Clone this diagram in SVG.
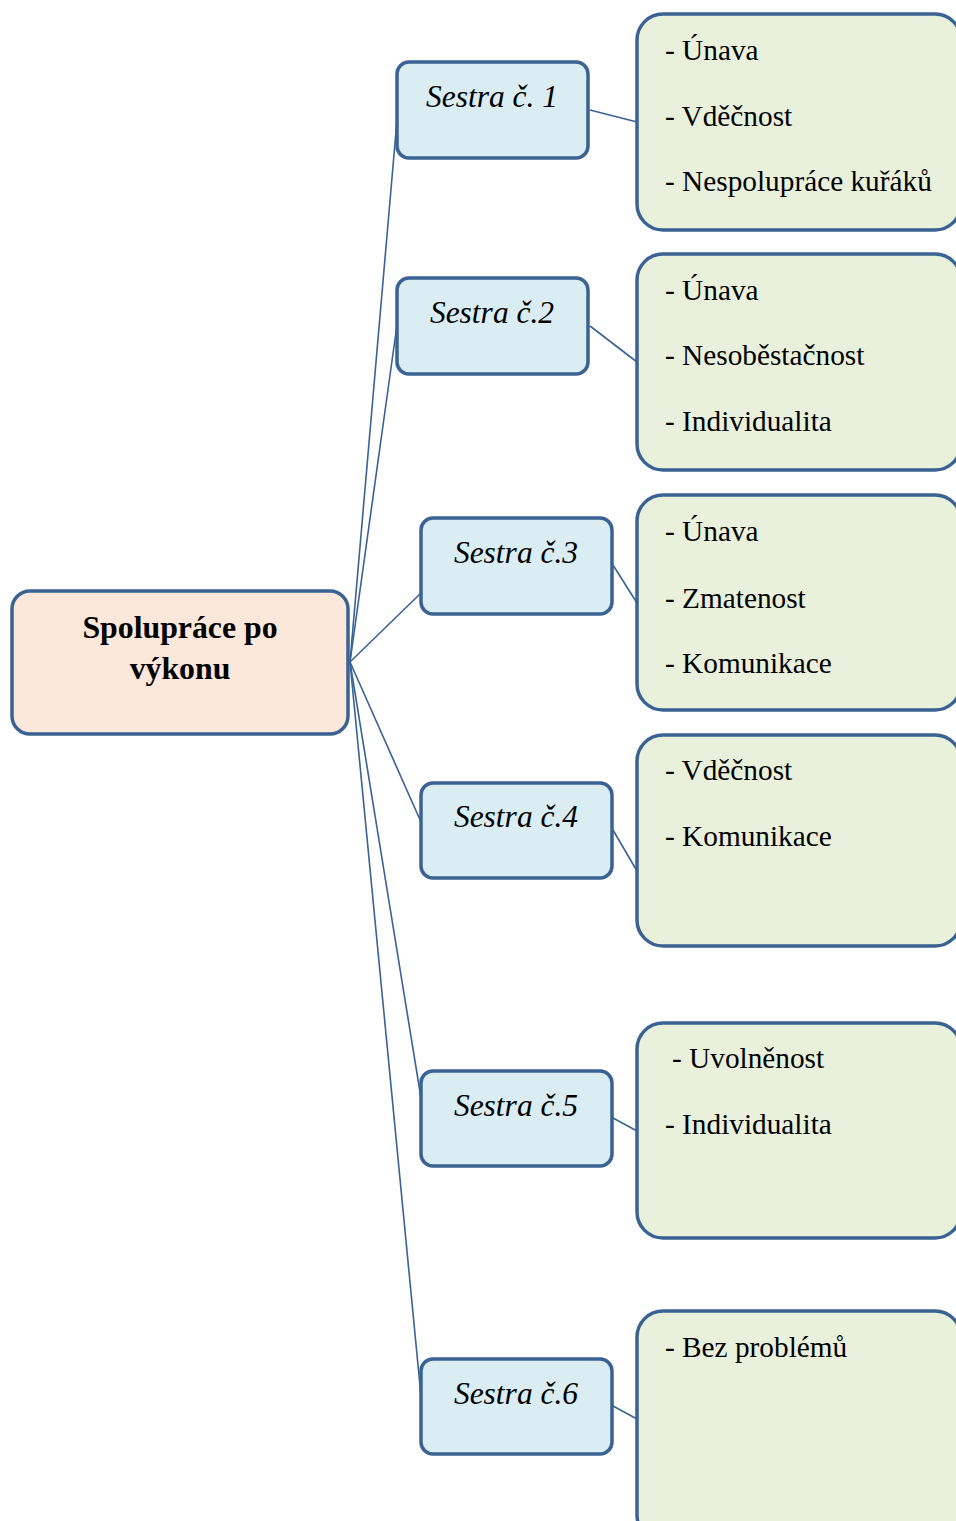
<svg xmlns="http://www.w3.org/2000/svg" width="956" height="1521" viewBox="0 0 956 1521">
  <style>
    .box { stroke: #3a6293; stroke-width: 3.5; }
    .root { fill: #fce8da; }
    .nurse { fill: #daedf3; }
    .notes { fill: #e9f0dc; }
    .link { stroke: #3a6293; stroke-width: 1.6; fill: none; }
    .title { font-family: "Liberation Serif", "Times New Roman", serif; font-weight: bold; font-size: 31.8px; fill: #000; text-anchor: middle; }
    .label { font-family: "Liberation Serif", "Times New Roman", serif; font-style: italic; font-size: 31.5px; fill: #000; text-anchor: middle; }
    .item { font-family: "Liberation Serif", "Times New Roman", serif; font-size: 29.3px; fill: #000; }
  </style>
  <rect width="956" height="1521" fill="#ffffff"/>

  <!-- connectors -->
  <g id="connectors">
    <line class="link" x1="350" y1="662" x2="397" y2="120"/>
    <line class="link" x1="350" y1="662" x2="397" y2="325"/>
    <line class="link" x1="350" y1="662" x2="421" y2="593"/>
    <line class="link" x1="350" y1="662" x2="421" y2="822"/>
    <line class="link" x1="350" y1="662" x2="421" y2="1098"/>
    <line class="link" x1="350" y1="662" x2="421" y2="1396"/>
    <line class="link" x1="590" y1="110" x2="637" y2="122"/>
    <line class="link" x1="590" y1="326" x2="637" y2="362"/>
    <line class="link" x1="613" y1="565" x2="637" y2="603"/>
    <line class="link" x1="613" y1="830" x2="637" y2="871"/>
    <line class="link" x1="613" y1="1118" x2="637" y2="1131"/>
    <line class="link" x1="613" y1="1406" x2="637" y2="1419"/>
  </g>

  <!-- root -->
  <g id="root">
    <rect class="box root" x="12" y="591" width="336" height="143" rx="18"/>
    <text class="title" x="180" y="638">Spolupráce po</text>
    <text class="title" x="180" y="679">výkonu</text>
  </g>

  <!-- nurses -->
  <g id="nurse1">
    <rect class="box nurse" x="397" y="62" width="191" height="96" rx="12"/>
    <text class="label" x="492" y="107">Sestra č. 1</text>
  </g>
  <g id="nurse2">
    <rect class="box nurse" x="397" y="278" width="191" height="96" rx="12"/>
    <text class="label" x="492" y="323">Sestra č.2</text>
  </g>
  <g id="nurse3">
    <rect class="box nurse" x="421" y="518" width="191" height="96" rx="12"/>
    <text class="label" x="516" y="563">Sestra č.3</text>
  </g>
  <g id="nurse4">
    <rect class="box nurse" x="421" y="783" width="191" height="95" rx="12"/>
    <text class="label" x="516" y="827">Sestra č.4</text>
  </g>
  <g id="nurse5">
    <rect class="box nurse" x="421" y="1071" width="191" height="95" rx="12"/>
    <text class="label" x="516" y="1116">Sestra č.5</text>
  </g>
  <g id="nurse6">
    <rect class="box nurse" x="421" y="1359" width="191" height="95" rx="12"/>
    <text class="label" x="516" y="1404">Sestra č.6</text>
  </g>

  <!-- notes -->
  <g id="notes1">
    <rect class="box notes" x="637" y="14" width="324" height="216" rx="26"/>
    <text class="item" x="665" y="60">- Únava</text>
    <text class="item" x="665" y="126">- Vděčnost</text>
    <text class="item" x="665" y="191">- Nespolupráce kuřáků</text>
  </g>
  <g id="notes2">
    <rect class="box notes" x="637" y="254" width="324" height="216" rx="26"/>
    <text class="item" x="665" y="300">- Únava</text>
    <text class="item" x="665" y="365">- Nesoběstačnost</text>
    <text class="item" x="665" y="431">- Individualita</text>
  </g>
  <g id="notes3">
    <rect class="box notes" x="637" y="495" width="324" height="215" rx="26"/>
    <text class="item" x="665" y="541">- Únava</text>
    <text class="item" x="665" y="608">- Zmatenost</text>
    <text class="item" x="665" y="673">- Komunikace</text>
  </g>
  <g id="notes4">
    <rect class="box notes" x="637" y="735" width="324" height="211" rx="26"/>
    <text class="item" x="665" y="780">- Vděčnost</text>
    <text class="item" x="665" y="846">- Komunikace</text>
  </g>
  <g id="notes5">
    <rect class="box notes" x="637" y="1023" width="324" height="215" rx="26"/>
    <text class="item" x="672" y="1068">- Uvolněnost</text>
    <text class="item" x="665" y="1134">- Individualita</text>
  </g>
  <g id="notes6">
    <rect class="box notes" x="637" y="1311" width="324" height="230" rx="26"/>
    <text class="item" x="665" y="1357">- Bez problémů</text>
  </g>
</svg>
